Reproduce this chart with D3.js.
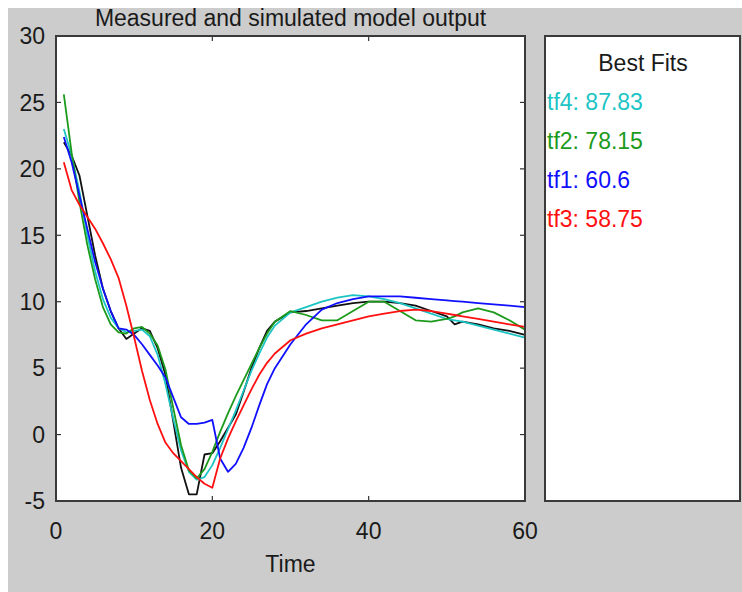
<!DOCTYPE html>
<html>
<head>
  <meta charset="utf-8">
  <script src="https://d3js.org/d3.v7.min.js"></script>
  <style>
    body { margin: 0; background: #fff; }
    svg text { font-family: "Liberation Sans", Arial, sans-serif; fill: #1a1a1a; }
  </style>
</head>
<body>
<script>
  "use strict";

  // time samples shared by every series
  var time = [1,2,3,4,5,6,7,8,9,10,11,12,13,14,15,16,17,18,19,20,21,22,23,24,25,26,27,28,
              30,32,34,36,38,40,42,44,46,48,50,51,52,54,56,58,60];

  // measured output (black)
  var measured = [22.0,21.0,19.5,16.5,13.5,11.0,9.3,8.0,7.2,7.6,8.0,7.8,6.5,4.5,1.0,-2.5,-4.5,-4.5,-1.5,-1.4,
                  -0.5,0.5,1.5,3.2,5.0,6.5,7.8,8.5,
                  9.2,9.3,9.5,9.7,9.9,10.0,10.0,9.9,9.7,9.3,8.9,8.3,8.5,8.3,8.0,7.8,7.5];
  var tf4 = [23.0,21.0,18.3,15.0,12.3,10.2,8.8,8.0,7.7,7.8,7.9,7.4,6.0,3.8,1.2,-1.2,-2.8,-3.4,-3.2,-2.3,
             -1.0,0.4,1.8,3.3,4.8,6.1,7.3,8.2,
             9.2,9.6,10.0,10.3,10.5,10.4,10.2,9.9,9.5,9.1,8.7,8.6,8.5,8.2,7.9,7.6,7.3];
  var tf2 = [25.6,21.2,17.5,14.3,11.7,9.6,8.3,7.7,7.6,8.0,8.1,7.6,6.7,4.9,2.0,-0.8,-2.7,-3.3,-2.6,-1.3,
             0.2,1.6,2.9,4.1,5.3,6.5,7.6,8.5,
             9.3,9.0,8.6,8.6,9.3,10.0,10.0,9.3,8.6,8.5,8.7,8.9,9.2,9.5,9.2,8.6,7.9];
  var tf1 = [22.4,20.5,18.0,15.5,13.0,11.0,9.3,8.0,7.9,7.5,6.8,6.0,5.2,4.3,2.8,1.3,0.8,0.8,0.9,1.1,
             -1.8,-2.8,-2.2,-1.0,0.5,2.2,3.8,5.0,
             6.8,8.3,9.4,9.9,10.2,10.4,10.4,10.4,10.3,10.2,10.1,10.05,10.0,9.9,9.8,9.7,9.6];
  var tf3 = [20.5,18.4,17.3,16.4,15.5,14.4,13.2,11.8,9.7,7.3,4.8,2.6,0.8,-0.6,-1.4,-2.0,-2.6,-3.2,-3.7,-4.0,
             -1.8,-0.3,1.0,2.2,3.4,4.5,5.4,6.1,
             7.1,7.6,8.0,8.3,8.6,8.9,9.1,9.3,9.4,9.3,9.1,9.0,8.9,8.7,8.5,8.3,8.1];

  var seriesNames = ["measured", "tf4", "tf2", "tf1", "tf3"];
  var seriesColors = ["#111111", "#1cc4c4", "#1c9a1c", "#1010ff", "#ff1010"];
  var seriesValues = [measured, tf4, tf2, tf1, tf3];

  // legend (best fits), in displayed order
  var fitNames = ["tf4", "tf2", "tf1", "tf3"];
  var fitValues = ["87.83", "78.15", "60.6", "58.75"];
  var fitColors = ["#1cc4c4", "#1c9a1c", "#1010ff", "#ff1010"];

  var xTicks = [0, 20, 40, 60];
  var yTicks = [-5, 0, 5, 10, 15, 20, 25, 30];

  var W = 742, H = 592;
  var plot = { left: 56, right: 525, top: 36, bottom: 501 };
  var legendBox = { left: 545, right: 740, top: 36, bottom: 501 };

  var svg = d3.select("body").append("svg")
      .attr("width", W)
      .attr("height", H);

  // grey figure background
  svg.append("rect")
      .attr("x", 8).attr("y", 8)
      .attr("width", W - 8).attr("height", H - 8)
      .attr("fill", "#cccccc");

  var x = d3.scaleLinear().domain([0, 60]).range([plot.left, plot.right]);
  var y = d3.scaleLinear().domain([-5, 30]).range([plot.bottom, plot.top]);

  // axes box
  svg.append("rect")
      .attr("x", plot.left).attr("y", plot.top)
      .attr("width", plot.right - plot.left).attr("height", plot.bottom - plot.top)
      .attr("fill", "#fff");

  var tickLen = 5;
  var ticks = svg.append("g").attr("stroke", "#333").attr("stroke-width", 1.2);
  xTicks.forEach(function (t) {
    ticks.append("line").attr("x1", x(t)).attr("x2", x(t)).attr("y1", plot.bottom).attr("y2", plot.bottom - tickLen);
    ticks.append("line").attr("x1", x(t)).attr("x2", x(t)).attr("y1", plot.top).attr("y2", plot.top + tickLen);
  });
  yTicks.forEach(function (t) {
    ticks.append("line").attr("x1", plot.left).attr("x2", plot.left + tickLen).attr("y1", y(t)).attr("y2", y(t));
    ticks.append("line").attr("x1", plot.right).attr("x2", plot.right - tickLen).attr("y1", y(t)).attr("y2", y(t));
  });

  // series lines
  var line = d3.line()
      .x(function (d) { return x(d[0]); })
      .y(function (d) { return y(d[1]); });

  seriesValues.forEach(function (vals, i) {
    var pts = time.map(function (t, j) { return [t, vals[j]]; });
    svg.append("path")
        .datum(pts)
        .attr("class", "series " + seriesNames[i])
        .attr("fill", "none")
        .attr("stroke", seriesColors[i])
        .attr("stroke-width", 1.8)
        .attr("stroke-linejoin", "round")
        .attr("d", line);
  });

  svg.append("rect")
      .attr("x", plot.left).attr("y", plot.top)
      .attr("width", plot.right - plot.left).attr("height", plot.bottom - plot.top)
      .attr("fill", "none")
      .attr("stroke", "#3a3a3a")
      .attr("stroke-width", 2);

  // tick labels
  svg.selectAll(".ylab").data(yTicks).enter().append("text")
      .attr("class", "ylab")
      .attr("x", plot.left - 11)
      .attr("y", function (d) { return y(d); })
      .attr("dy", "0.36em")
      .attr("text-anchor", "end")
      .style("font-size", "23px")
      .text(function (d) { return d; });

  svg.selectAll(".xlab").data(xTicks).enter().append("text")
      .attr("class", "xlab")
      .attr("x", function (d) { return x(d); })
      .attr("y", plot.bottom + 38)
      .attr("text-anchor", "middle")
      .style("font-size", "23px")
      .text(function (d) { return d; });

  svg.append("text")
      .attr("x", (plot.left + plot.right) / 2)
      .attr("y", 572)
      .attr("text-anchor", "middle")
      .style("font-size", "23px")
      .text("Time");

  svg.append("text")
      .attr("x", (plot.left + plot.right) / 2)
      .attr("y", 26)
      .attr("text-anchor", "middle")
      .style("font-size", "23px")
      .text("Measured and simulated model output");

  // legend panel
  svg.append("rect")
      .attr("x", legendBox.left).attr("y", legendBox.top)
      .attr("width", legendBox.right - legendBox.left).attr("height", legendBox.bottom - legendBox.top)
      .attr("fill", "#fff")
      .attr("stroke", "#3a3a3a")
      .attr("stroke-width", 2);

  svg.append("text")
      .attr("x", 643)
      .attr("y", 70.5)
      .attr("text-anchor", "middle")
      .style("font-size", "23px")
      .text("Best Fits");

  svg.selectAll(".fit").data(fitNames).enter().append("text")
      .attr("class", "fit")
      .attr("x", legendBox.left + 2)
      .attr("y", function (d, i) { return 109.5 + i * 39; })
      .style("font-size", "23px")
      .style("fill", function (d, i) { return fitColors[i]; })
      .text(function (d, i) { return d + ": " + fitValues[i]; });
</script>
</body>
</html>
